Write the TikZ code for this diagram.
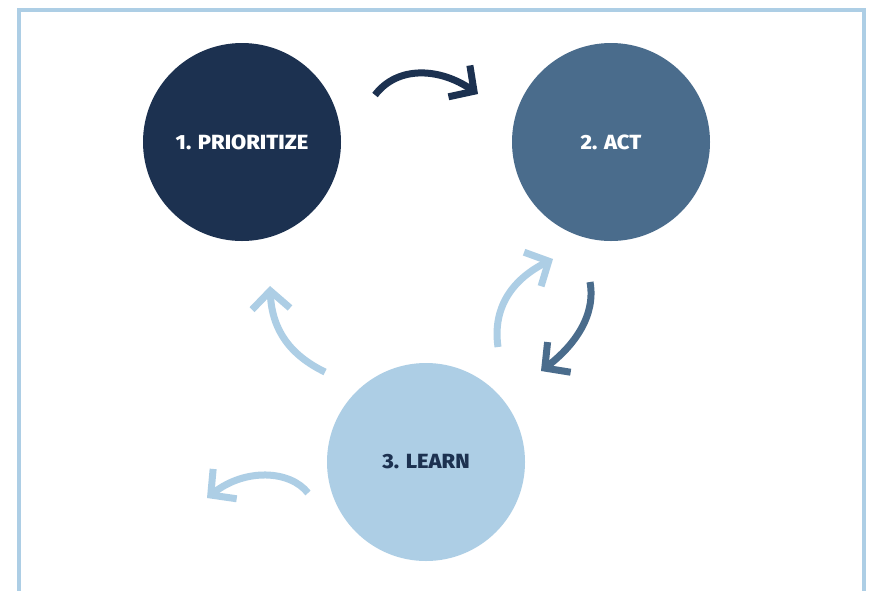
\documentclass[tikz,border=0pt]{standalone}
\usepackage{fontspec}
\setmainfont{Fira Sans}
\newfontfamily\stagefont{Fira Sans ExtraBold}[FakeStretch=1.07]
\usetikzlibrary{arrows.meta}
\definecolor{navy}{RGB}{28,49,80}
\definecolor{steel}{RGB}{74,108,140}
\definecolor{sky}{RGB}{173,206,229}
\tikzset{
  stage/.style={circle, minimum size=198pt, inner sep=0pt, font=\stagefont\fontsize{20.5}{20.5}\selectfont},
  cyc/.style={line width=7pt, -{Straight Barb[length=18pt,width=38pt,sharp]}},
}
\begin{document}
\begin{tikzpicture}[x=1pt,y=-1pt]
\useasboundingbox (0,0) rectangle (870,590);
\fill[white] (0,0) rectangle (870,590);
\draw[sky, line width=4pt] (19,600) -- (19,10) -- (863.5,10) -- (863.5,600);
\node[stage, fill=navy, text=white] (p) at (242,142) {1. PRIORITIZE};
\node[stage, fill=steel, text=white] (a) at (611,142) {2. ACT};
\node[stage, fill=sky, text=navy] (l) at (426,462) {3. LEARN};
% free ends of connectors
\coordinate (pa0) at (375,95);  \coordinate (pa1) at (478,94);
\coordinate (al0) at (590,282); \coordinate (al1) at (541,371);
\coordinate (la0) at (498,347); \coordinate (la1) at (553,259);
\coordinate (lp0) at (325,372); \coordinate (lp1) at (270,286);
\coordinate (lo0) at (308,493); \coordinate (lo1) at (207,498);
\draw[cyc, navy] (pa0) .. controls (398,65) and (440,68) .. (pa1);
\draw[cyc, steel] (al0) .. controls (596,315) and (575,345) .. (al1);
\draw[cyc, sky] (la0) .. controls (492,305) and (515,278) .. (la1);
\draw[cyc, sky] (lp0) .. controls (290,355) and (272,330) .. (lp1);
\draw[cyc, sky] (lo0) .. controls (290,470) and (245,468) .. (lo1);
\end{tikzpicture}
\end{document}
